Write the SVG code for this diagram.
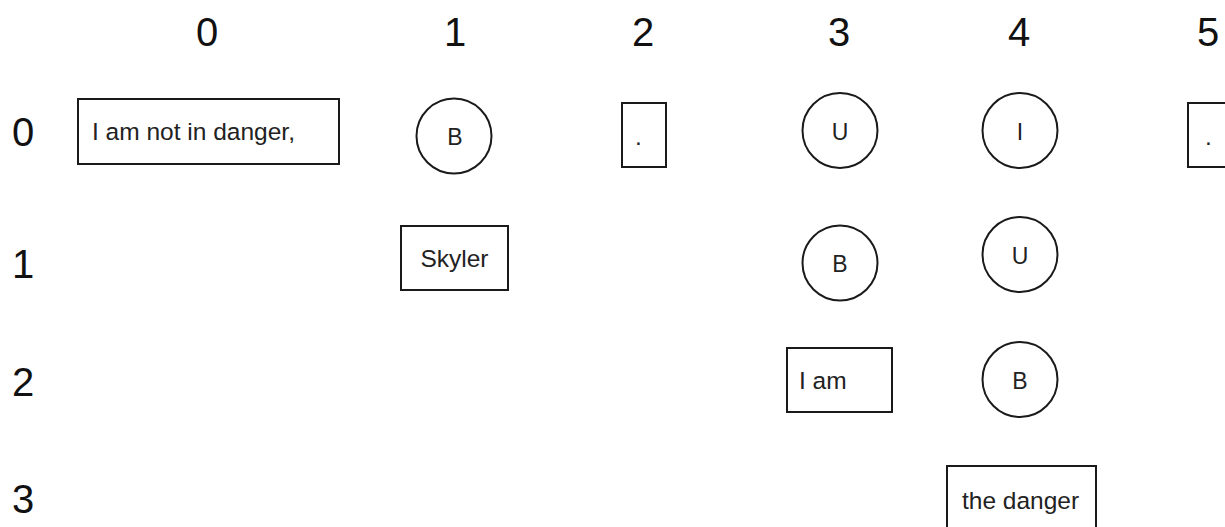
<svg xmlns="http://www.w3.org/2000/svg" width="1225" height="527" viewBox="0 0 1225 527">
<style>
.bg{fill:#fff}
.shape{fill:#fff;stroke:#1a1a1a;stroke-width:2}
.axis{font-family:"Liberation Sans",Arial,sans-serif;font-size:40px;fill:#111;text-anchor:middle}
.lbl{font-family:"Liberation Sans",Arial,sans-serif;font-size:24.5px;fill:#222}
.clbl{font-family:"Liberation Sans",Arial,sans-serif;font-size:23px;fill:#222;text-anchor:middle}
.mid{text-anchor:middle}
</style>
<rect class="bg" x="0" y="0" width="1225" height="527"/>
<g id="col-headers">
<text class="axis" x="207" y="46">0</text>
<text class="axis" x="455" y="46">1</text>
<text class="axis" x="643" y="46">2</text>
<text class="axis" x="839" y="46">3</text>
<text class="axis" x="1019" y="46">4</text>
<text class="axis" x="1208" y="46">5</text>
</g>
<g id="row-headers">
<text class="axis" x="23" y="146">0</text>
<text class="axis" x="23" y="278">1</text>
<text class="axis" x="23" y="396">2</text>
<text class="axis" x="23" y="513">3</text>
</g>
<g id="connectors"></g>
<g id="n-0-0">
<rect class="shape" x="78" y="99" width="261" height="65"/>
<text class="lbl" x="92" y="140">I am not in danger,</text>
</g>
<g id="n-0-1">
<circle class="shape" cx="454" cy="136" r="37.5"/>
<text class="clbl" x="455" y="145">B</text>
</g>
<g id="n-0-2">
<rect class="shape" x="622" y="103" width="44" height="64"/>
<text class="lbl" x="635" y="145">.</text>
</g>
<g id="n-0-3">
<circle class="shape" cx="840" cy="130.5" r="37.5"/>
<text class="clbl" x="840" y="140">U</text>
</g>
<g id="n-0-4">
<circle class="shape" cx="1020" cy="130.5" r="37.5"/>
<text class="clbl" x="1020" y="140">I</text>
</g>
<g id="n-0-5">
<rect class="shape" x="1188" y="103" width="44" height="64"/>
<text class="lbl" x="1205" y="145">.</text>
</g>
<g id="n-1-1">
<rect class="shape" x="401" y="226" width="107" height="64"/>
<text class="lbl mid" x="454.5" y="267">Skyler</text>
</g>
<g id="n-1-3">
<circle class="shape" cx="840" cy="263" r="37.5"/>
<text class="clbl" x="840" y="272">B</text>
</g>
<g id="n-1-4">
<circle class="shape" cx="1020" cy="254.5" r="37.5"/>
<text class="clbl" x="1020" y="264">U</text>
</g>
<g id="n-2-3">
<rect class="shape" x="787" y="348" width="105" height="64"/>
<text class="lbl" x="799" y="389">I am</text>
</g>
<g id="n-2-4">
<circle class="shape" cx="1020" cy="379.5" r="37.5"/>
<text class="clbl" x="1020" y="389">B</text>
</g>
<g id="n-3-4">
<rect class="shape" x="947" y="466" width="149" height="64"/>
<text class="lbl" x="962" y="509">the danger</text>
</g>
</svg>
